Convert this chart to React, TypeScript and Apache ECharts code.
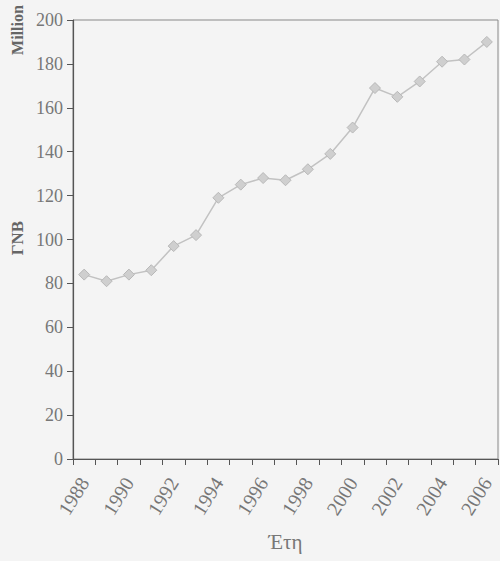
import React, { useEffect, useRef } from "react";
import * as echarts from "echarts";

const years = ["1988","1989","1990","1991","1992","1993","1994","1995","1996","1997","1998","1999","2000","2001","2002","2003","2004","2005","2006"];
const gnp = [84, 81, 84, 86, 97, 102, 119, 125, 128, 127, 132, 139, 151, 169, 165, 172, 181, 182, 190];
const yTicks = [0, 20, 40, 60, 80, 100, 120, 140, 160, 180, 200];

export default function App() {
  const ref = useRef<HTMLDivElement>(null);
  useEffect(() => {
    const chart = echarts.init(ref.current!, null, { renderer: "svg" });
    const font = "Liberation Serif";
    chart.setOption({
      animation: false,
      backgroundColor: "#f4f4f4",
      textStyle: { fontFamily: font },
      grid: { left: 73, right: 2, top: 20, bottom: 102, outerBoundsMode: "none", containLabel: false, show: true, borderColor: "#888", borderWidth: 1, backgroundColor: "transparent" },
      xAxis: {
        type: "category",
        data: years,
        boundaryGap: true,
        axisLine: { lineStyle: { color: "#555", width: 1.2 } },
        axisTick: { show: true, interval: 0, length: 6, inside: false, lineStyle: { color: "#555" } },
        axisLabel: {
          interval: 1, rotate: 58, color: "#777", fontSize: 20, fontFamily: font, margin: 20,
        },
        name: "Έτη",
        nameLocation: "middle",
        nameGap: 72,
        nameTextStyle: { color: "#777", fontSize: 21, fontFamily: font },
      },
      yAxis: {
        type: "value",
        min: 0, max: 200, interval: 20,
        axisLine: { show: true, lineStyle: { color: "#555", width: 1.2 } },
        axisTick: { show: true, length: 6, lineStyle: { color: "#555" } },
        splitLine: { show: false },
        axisLabel: { color: "#777", fontSize: 18, fontFamily: font, margin: 10 },
      },
      graphic: [
        { type: "text", x: 17, y: 30, rotation: Math.PI / 2, style: { text: "Million", font: `bold 16px ${font}`, fill: "#666", align: "center", verticalAlign: "middle" } },
        { type: "text", x: 17, y: 238, rotation: Math.PI / 2, style: { text: "ΓΝΒ", font: `bold 17px ${font}`, fill: "#666", align: "center", verticalAlign: "middle" } },
      ],
      series: [
        {
          type: "line",
          data: gnp,
          symbol: "diamond",
          symbolSize: 11,
          lineStyle: { color: "#c2c2c2", width: 1.5 },
          itemStyle: { color: "#cfcfcf", borderColor: "#b8b8b8", borderWidth: 1 },
        },
      ],
    });
    return () => chart.dispose();
  }, []);
  return <div ref={ref} style={{ position: "fixed", left: 0, top: 0, width: 500, height: 561 }} />;
}
